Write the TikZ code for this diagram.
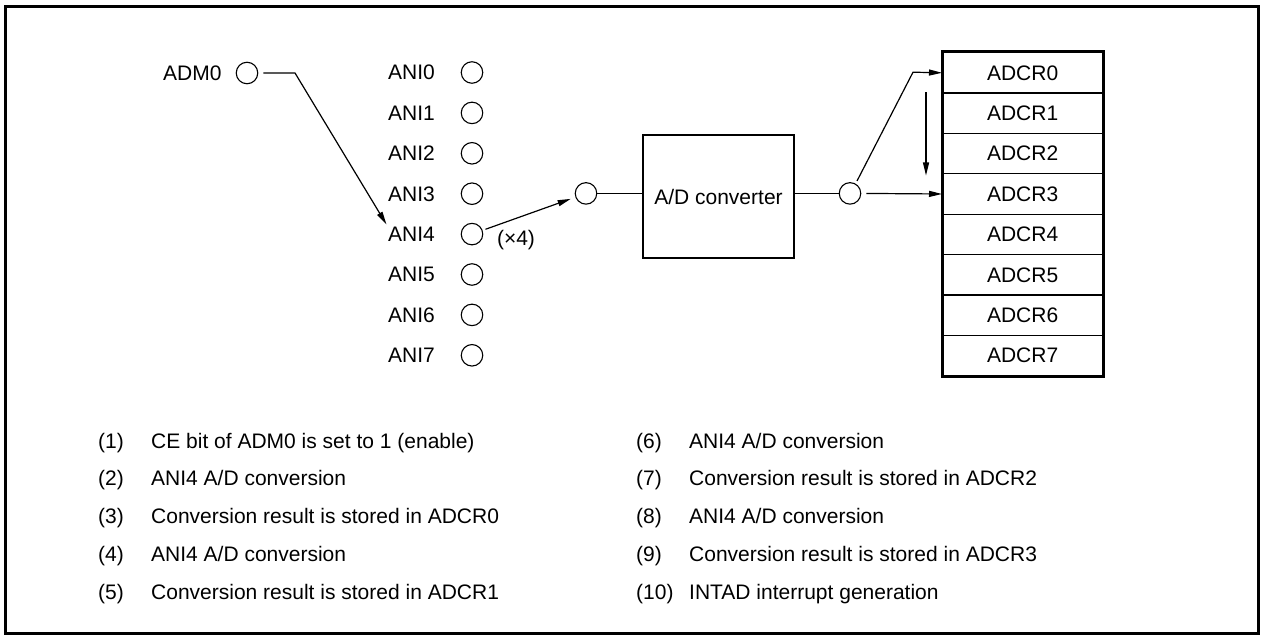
\documentclass[tikz,border=0pt]{standalone}
\usepackage{fontspec}
\setmainfont{Liberation Sans}
\usetikzlibrary{arrows.meta,calc}
\begin{document}
\begin{tikzpicture}[x=1pt,y=-1pt,
  font=\fontsize{21}{25}\selectfont,
  thin line/.style={line width=1.2pt},
  pin/.style={circle,draw,line width=1.1pt,minimum size=21.5pt,inner sep=0pt},
  lbl/.style={anchor=base west,inner sep=0pt},
  reg/.style={draw,line width=1.2pt,minimum width=160pt,minimum height=40.4pt,inner sep=0pt,anchor=north west},
  arr/.style={thin line,-{Triangle[length=13pt,width=6pt]}},
  leg/.style={anchor=base west,inner sep=0pt,font=\fontsize{21}{25}\selectfont}]
\useasboundingbox (0,0) rectangle (1261,636);
\draw[line width=3pt] (5,7) rectangle (1258,633);

% ADM0
\node[lbl] (adml) at (163,80.5) {ADM0};
\node[pin] (adm) at (247,73) {};

% ANI inputs
\foreach \i in {0,...,7}{
  \node[lbl] (anil\i) at (388,{72.5+40.4*\i+7.5}) {ANI\i};
  \node[pin] (ani\i) at (472,{72.5+40.4*\i}) {};
}
\node[anchor=center,inner sep=0pt] (x4) at (516,240) {(\texttimes4)};

% mux output circle and A/D converter
\node[pin] (c1) at (586,193.4) {};
\node[draw,line width=2.5pt,minimum width=151pt,minimum height=123pt,inner sep=0pt] (adc) at (718.5,196.5) {A/D converter};
\node[pin] (c2) at (850,193.4) {};

% registers
\foreach \i in {0,...,7}{
  \node[reg] (r\i) at (942,{52+40.4*\i}) {ADCR\i};
}
\draw[line width=3pt] (r0.north west) rectangle (r7.south east);

% connectors
\coordinate (admbend) at (295,73);
\draw[arr,shorten <=5pt,shorten >=3pt] (adm.east) -- (admbend) -- (anil4.west |- 0,227);
\draw[arr,shorten <=3pt,shorten >=5pt] (ani4) -- (c1);
\draw[thin line] (c1.east) -- (adc.west |- c1.east);
\draw[thin line] (adc.east |- c2.west) -- (c2.west);
\coordinate (upbend) at (913,72.2);
\draw[arr,shorten <=3pt] (c2.60) -- (upbend) -- (r0.west);
\draw[arr,shorten <=5pt] (c2.east) -- (r3.west);
\coordinate (vtop) at (926,92.4);
\coordinate (vbot) at (926,175.5);
\draw[arr] (vtop) -- (vbot);

% legend
\foreach \n/\t [count=\k from 0] in {1/{CE bit of ADM0 is set to 1 (enable)},2/{ANI4 A/D conversion},3/{Conversion result is stored in ADCR0},4/{ANI4 A/D conversion},5/{Conversion result is stored in ADCR1}}{
  \node[leg] (ln\n) at (98,{448+37.8*\k}) {(\n)};
  \node[leg] (lt\n) at (151,{448+37.8*\k}) {\t};
}
\foreach \n/\t [count=\k from 0] in {6/{ANI4 A/D conversion},7/{Conversion result is stored in ADCR2},8/{ANI4 A/D conversion},9/{Conversion result is stored in ADCR3},10/{INTAD interrupt generation}}{
  \node[leg] (ln\n) at (636,{448+37.8*\k}) {(\n)};
  \node[leg] (lt\n) at (689,{448+37.8*\k}) {\t};
}
\end{tikzpicture}
\end{document}
